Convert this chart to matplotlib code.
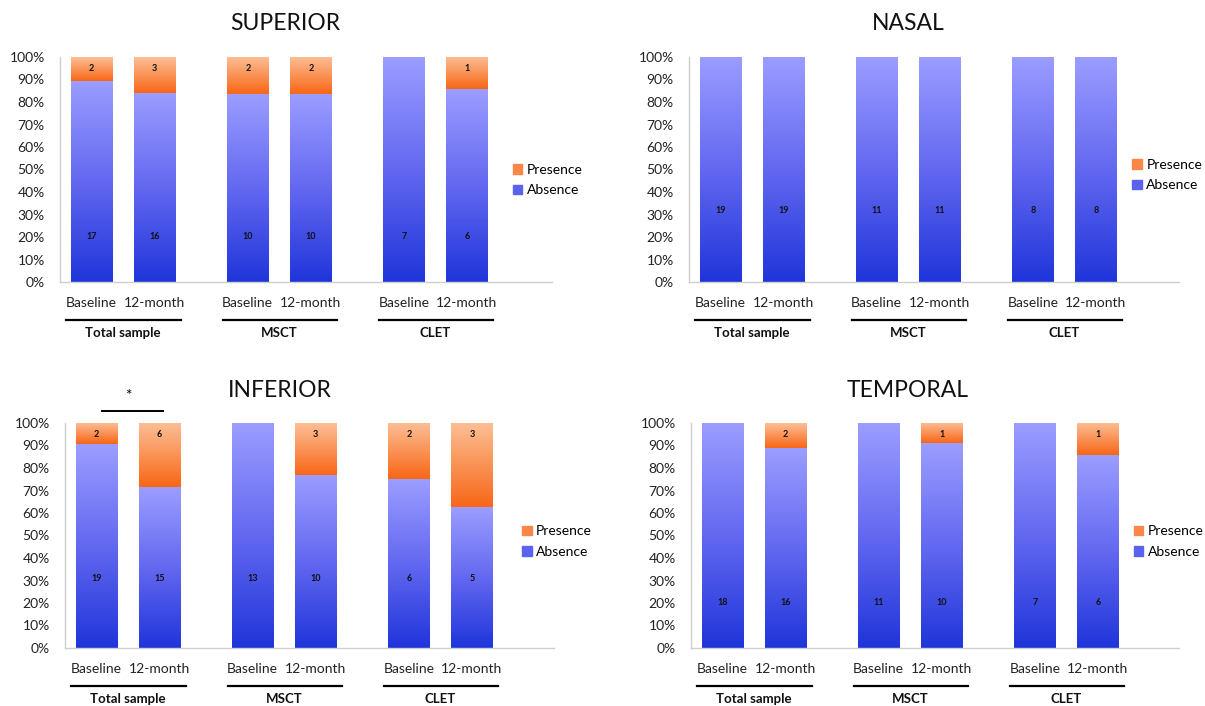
import numpy as np
import matplotlib
matplotlib.use("Agg")
import matplotlib.pyplot as plt
from matplotlib.colors import LinearSegmentedColormap
from matplotlib.patches import Patch
from matplotlib.transforms import blended_transform_factory

plt.rcParams['font.family'] = ['Lato', 'DejaVu Sans']

# datos: orden [Total-Baseline, Total-12m, MSCT-Baseline, MSCT-12m, CLET-Baseline, CLET-12m]
regions = ['SUPERIOR', 'NASAL', 'INFERIOR', 'TEMPORAL']
groups = ['Total sample', 'MSCT', 'CLET']
timepoints = ['Baseline', '12-month']

superior_absence = [17, 16, 10, 10, 7, 6]
superior_presence = [2, 3, 2, 2, 0, 1]
nasal_absence = [19, 19, 11, 11, 8, 8]
nasal_presence = [0, 0, 0, 0, 0, 0]
inferior_absence = [19, 15, 13, 10, 6, 5]
inferior_presence = [2, 6, 0, 3, 2, 3]
temporal_absence = [18, 16, 11, 10, 7, 6]
temporal_presence = [0, 2, 0, 1, 0, 1]

absence = [superior_absence, nasal_absence, inferior_absence, temporal_absence]
presence = [superior_presence, nasal_presence, inferior_presence, temporal_presence]

W, H = 1205, 706
# rectangulos de los ejes en pixeles (izq, der, arriba, abajo)
rects = [(60, 552, 57, 282), (689, 1179, 57, 282),
         (65, 554, 423, 648), (691, 1179, 423, 648)]
title_pos = [(285, 23), (908, 23), (280, 391), (908, 391)]
legend_pos = [(0.92, 0.453), (0.905, 0.475), (0.935, 0.473), (0.907, 0.473)]
absence_label_y = [0.204, 0.316, 0.311, 0.204]

blue_cmap = LinearSegmentedColormap.from_list('blue', ['#1f35da', '#6368f0', '#9b9dff'])
orange_cmap = LinearSegmentedColormap.from_list('orange', ['#f86616', '#fa9357', '#fdbf96'])
grad = np.linspace(0, 1, 256).reshape(-1, 1)

group_gap = 2.48
x = np.array([g * group_gap + i for g in range(3) for i in range(2)])
bar_w = 0.66

fig = plt.figure(figsize=(W / 100, H / 100), dpi=100)

for k in range(4):
    l, r, t, b = rects[k]
    ax = fig.add_axes([l / W, 1 - b / H, (r - l) / W, (b - t) / H])
    tot = np.array(absence[k]) + np.array(presence[k])
    a_pct = np.array(absence[k]) / tot
    p_pct = np.array(presence[k]) / tot

    bars_a = ax.bar(x, a_pct, width=bar_w, color='none', edgecolor='none')
    bars_p = ax.bar(x, p_pct, width=bar_w, bottom=a_pct, color='none', edgecolor='none')

    # relleno en degradado dentro de cada barra
    for bars, cmap in [(bars_a, blue_cmap), (bars_p, orange_cmap)]:
        for bar in bars:
            if bar.get_height() <= 0:
                continue
            x0, y0 = bar.get_x(), bar.get_y()
            ax.imshow(grad, extent=[x0, x0 + bar.get_width(), y0, y0 + bar.get_height()],
                      origin='lower', aspect='auto', cmap=cmap, zorder=2)

    for i in range(6):
        ax.text(x[i], absence_label_y[k], str(absence[k][i]), ha='center', va='center',
                fontsize=6.5, fontweight='bold', color='#111111', zorder=3)
        if presence[k][i] > 0:
            ax.text(x[i], 0.95, str(presence[k][i]), ha='center', va='center',
                    fontsize=6.5, fontweight='bold', color='#111111', zorder=3)

    ax.set_xlim(-0.5, -0.5 + (r - l) / 63)
    ax.set_ylim(0, 1)
    ax.set_yticks(np.arange(0, 1.01, 0.1))
    ax.set_yticklabels([f'{v}%' for v in range(0, 101, 10)], fontsize=10, color='#222222')
    ax.set_xticks(x)
    ax.set_xticklabels(timepoints * 3, fontsize=10, color='#222222')
    ax.tick_params(axis='both', length=0)
    ax.tick_params(axis='y', pad=11)
    ax.tick_params(axis='x', pad=11)
    for s in ['top', 'right']:
        ax.spines[s].set_visible(False)
    for s in ['left', 'bottom']:
        ax.spines[s].set_color('#cfcfcf')
        ax.spines[s].set_linewidth(1)

    # lineas y nombres de grupo bajo el eje
    trans = blended_transform_factory(ax.transData, ax.transAxes)
    for g in range(3):
        c0 = x[2 * g]
        ax.plot([c0 - 0.4, c0 + 1.42], [-0.17, -0.17], color='black', lw=1.6,
                transform=trans, clip_on=False)
        ax.text(c0 + 0.5, -0.228, groups[g], ha='center', va='center', fontsize=9.5,
                fontweight='bold', color='#111111', transform=trans)

    ax.legend(handles=[Patch(color='#fa8748'), Patch(color='#5b62ee')],
              labels=['Presence', 'Absence'], loc='center left',
              bbox_to_anchor=legend_pos[k], frameon=False, fontsize=10,
              handlelength=0.7, handleheight=0.7, handletextpad=0.3,
              labelspacing=0.6, borderpad=0, borderaxespad=0)

    tx, ty = title_pos[k]
    fig.text(tx / W, 1 - ty / H, regions[k], ha='center', va='center', fontsize=16.5,
             color='#111111')

    if regions[k] == 'INFERIOR':
        ax.plot([x[0] + 0.08, x[1] + 0.06], [1.055, 1.055], color='black', lw=1.4,
                transform=trans, clip_on=False)
        ax.text((x[0] + x[1]) / 2, 1.12, '*', ha='center', va='center', fontsize=11,
                transform=trans)

fig.savefig('out.png', dpi=100, facecolor='white')
